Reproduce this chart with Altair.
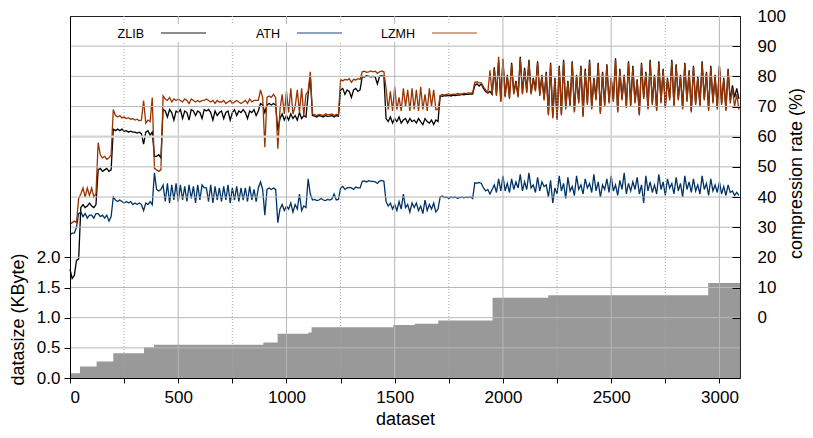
import altair as alt
import pandas as pd

FONT = "Liberation Sans"

# ---------------- data ----------------
# compression rate (%) sampled every 10 datasets (0, 10, ..., 3090)
dataset = list(range(0, 3100, 10))

zlib = [
    16, 13, 14, 19, 19.5, 36.5, 37.5, 36.5, 37, 38,
    37, 36.5, 37.5, 49, 49.5, 48.5, 49, 49.5, 48.5, 49,
    62.5, 62, 62.5, 62, 62.5, 61.8, 62, 61.5, 61.8, 61.5,
    61.5, 61.2, 61.5, 61, 57.5, 61.5, 62, 60.5, 61.5, 53.5,
    53.5, 54, 53, 69, 68.5, 66.5, 69, 68, 65.5, 68.5,
    68, 69, 66, 68.5, 68, 65.5, 69, 68.5, 67, 68.5,
    68, 66, 69, 68.5, 69, 68, 65.5, 68.5, 67, 68,
    68.5, 66, 68, 68.5, 65.5, 68, 69, 67, 68.5, 68,
    69, 68, 66, 68.5, 68, 69, 67, 68.5, 71, 70.5,
    68, 70.5, 71, 70.5, 71, 70.5, 62, 66, 67.5, 65.5,
    67, 65.5, 67.5, 66, 67, 65.5, 68, 66, 67, 66.5,
    74, 80, 67, 66.8, 66.5, 67, 66.8, 66.5, 67, 66.7,
    66.8, 67, 66.5, 67, 66.8, 75.5, 76, 74, 75.5, 75,
    73, 75.5, 76, 75, 75.5, 80, 79.8, 80.2, 80, 79.8,
    80, 79.8, 77.5, 80, 80.2, 80, 66, 65, 66.5, 64.5,
    66, 65, 66.5, 64.5, 65.5, 66, 64.5, 66, 65, 65.5,
    64.5, 66, 65, 64, 66, 65, 64.5, 65.5, 64, 65.5,
    65, 73.5, 73.4, 73.6, 73.5, 73.7, 73.5, 73.8, 73.6, 73.8,
    73.8, 74, 73.9, 74.1, 74, 74.2, 74.1, 77, 77.5, 76.8,
    77.5, 76, 75, 74.5, 75, 74, 83, 74, 85, 72,
    85.8, 73.5, 80.5, 73, 84.5, 74.5, 78.5, 73.5, 86.5, 74.5,
    82.8, 75, 85.5, 74.5, 79.5, 75.5, 85, 74, 80.5, 72.5,
    81.5, 67.5, 84.5, 66.5, 79.5, 66, 83.5, 67.5, 85.5, 69.5,
    78.5, 70.5, 85, 68.5, 80.5, 71.5, 83.5, 67, 82.5, 71,
    85.5, 69.5, 79.5, 72.5, 84.5, 68, 81.5, 70.5, 84, 71.5,
    79.5, 72, 86, 68.5, 82.5, 72.5, 80.5, 70, 85, 70.5,
    83.5, 71.5, 79, 67.5, 84.5, 73, 81.5, 69.5, 85.5, 71,
    80.5, 69, 85, 71.5, 82.5, 70, 79.5, 72.5, 85.5, 70.5,
    84, 72.5, 80.5, 69.5, 84.5, 72, 82, 68.5, 83.5, 71,
    80, 70.5, 85, 72.5, 81.5, 69, 83.5, 71.5, 80.5, 69.5,
    83.5, 71, 79.5, 69, 82.5, 72, 77, 73, 76, 72.5,
]

ath = [
    27.5, 28, 28, 30, 34.5, 35, 33.5, 34.5, 33, 34,
    34, 33, 34.5, 34.5, 33.5, 34, 33, 34, 32, 33.5,
    40, 39, 38.5, 39, 38.5, 38, 38.5, 38, 38.5, 37.5,
    38, 37.5, 38, 37.5, 35.5, 38, 37.5, 38.5, 37.5, 48,
    42.5, 42, 42.5, 44, 38.5, 44.5, 38, 44, 39, 44.5,
    38.5, 44, 39, 43.5, 38.5, 44, 39.5, 43.5, 38, 44,
    39, 44, 43, 43, 38.5, 44, 38, 43.5, 39, 43,
    38.5, 43.5, 39, 44, 38, 43, 39, 43.5, 38.5, 43,
    39, 43, 38.5, 43.5, 39, 42.5, 38.5, 43, 45, 42.5,
    34, 42.5, 43, 42.5, 43, 42.5, 31.5, 36, 37.5, 35.5,
    37, 36, 38, 35, 37.5, 36, 41, 35.5, 37, 36.5,
    46, 41, 39, 39.2, 38.8, 39, 39.5, 39, 38.8, 39.2,
    39, 39.3, 41, 39, 39.2, 43, 43.5, 42.5, 43, 43.2,
    43, 42.5, 43.3, 43, 43, 45.2, 45.3, 45, 45.4, 45.2,
    45.2, 45, 44.5, 45.3, 45.5, 45.2, 38.5, 37, 38, 36,
    37.5, 35.5, 38.5, 36, 41, 36.5, 37.5, 35, 38, 36.5,
    38, 35.5, 37, 34.5, 39, 35.5, 37.5, 36, 38, 35,
    36, 40, 40.3, 39.8, 40, 39.5, 40.1, 39.8, 40, 39.6,
    39.8, 40, 39.7, 40, 39.8, 40.1, 39.5, 44.7, 44.6, 44.8,
    44.5, 43, 42, 42.5, 41, 42.5, 44, 41.5, 46, 42,
    47, 42, 44.5, 41.5, 46, 42.5, 45, 43, 47.5, 42,
    45, 42.5, 48, 43, 44, 41.5, 46.5, 42, 45, 43.5,
    44, 40, 45.5, 38, 43, 41, 47, 42, 44.5, 39.5,
    46.5, 42, 43.5, 40.5, 47, 42.5, 44, 41, 46, 43,
    44.5, 41.5, 47.5, 42, 45, 40, 44, 42.5, 46, 41.5,
    47, 42, 44, 40.5, 45.5, 42.5, 48, 41, 44.5, 42,
    45, 42.5, 46.5, 41, 44, 38, 47, 42, 45, 41.5,
    44, 41, 47.5, 42.5, 45, 40.5, 46, 43, 44.5, 41,
    46.5, 42, 44.5, 40, 47, 42.5, 45, 41.5, 46, 42,
    44, 41, 47, 42.5, 44.5, 40.5, 46, 42, 44, 41.5,
    45, 41, 43.5, 40.5, 44, 41.5, 42, 40.5, 41.5, 40.5,
]

lzmh = [
    31, 31.5, 32, 31.5, 39.5, 41, 43, 40, 43, 40.5,
    43, 40, 41, 58, 54, 53, 53.5, 52.5, 53, 54,
    69, 67, 66.5, 67, 66.2, 66.5, 66, 66.3, 65.8, 66,
    65.5, 65.8, 65.3, 65.5, 72, 64.5, 65.5, 65, 73, 49.5,
    49, 48.5, 49, 73.5, 72.5, 72, 73, 71.5, 72.5, 72,
    72.5, 72, 71.5, 72.5, 72, 71, 72.5, 72, 71.5, 72,
    71.5, 72, 72, 72.5, 72, 71.5, 72, 71, 72, 71.5,
    71.5, 72, 71, 71.5, 72, 71, 71.5, 72, 71.5, 71,
    71.5, 72, 71, 72.5, 71.5, 72, 72, 72, 75.5, 73,
    56.5, 73, 73.5, 73, 74, 73, 56, 69, 74, 67.5,
    75, 68, 76, 67.5, 70, 75.5, 68, 76, 67, 74,
    75, 81.5, 67.5, 67.3, 67, 67.4, 67.2, 67, 67.5, 67.3,
    67.3, 67.5, 67, 67.4, 67.2, 79, 78.5, 79, 78.8, 79.2,
    78, 79, 78.8, 79.2, 79, 81.5, 81.7, 81.3, 81.5, 81.8,
    81.5, 81.7, 81, 81.5, 81.8, 81.5, 76, 69, 75, 68.5,
    76.5, 69, 73, 68.5, 76, 70, 75.5, 68.5, 76, 69,
    75.5, 68.5, 76.5, 69, 74, 68.5, 76, 70, 75.5, 69,
    69, 73.7, 74, 73.8, 74, 74.2, 73.9, 74.1, 74, 74.3,
    74.2, 74.1, 74.4, 74.3, 74.5, 74.4, 74.6, 78, 78.2, 77.8,
    77.8, 76.5, 75.5, 74.5, 82, 74, 82.5, 73.5, 86.5, 71.5,
    85, 73, 80, 72.5, 84, 74, 78, 73, 86, 74,
    82, 74.5, 85, 74, 79, 75, 84.5, 73.5, 80, 72,
    81, 67, 84, 66, 79, 65.5, 83, 67, 85, 69,
    78, 70, 84.5, 68, 80, 71, 83, 66.5, 82, 70.5,
    85, 69, 79, 72, 84, 67.5, 81, 70, 83.5, 71,
    79, 71.5, 85.5, 68, 82, 72, 80, 69.5, 84.5, 70,
    83, 71, 78.5, 67, 84, 72.5, 81, 69, 85, 70.5,
    80, 68.5, 84.5, 71, 82, 69.5, 79, 72, 85, 70,
    83.5, 72, 80, 69, 84, 71.5, 81.5, 68, 83, 70.5,
    79.5, 70, 84.5, 72, 81, 68.5, 83, 71, 80, 69,
    83, 70.5, 79, 68.5, 82, 71, 76, 70, 74, 69,
]

# datasize (KByte), step changes
size_x = [0, 46, 123, 200, 342, 388, 893, 959, 1101, 1116, 1493, 1593, 1701, 1952, 2209, 2948, 3095]
size_kb = [0.08, 0.19, 0.275, 0.41, 0.51, 0.55, 0.59, 0.735, 0.755, 0.84, 0.88, 0.90, 0.955, 1.33, 1.37, 1.575, 1.575]

series_names = ["ZLIB", "ATH", "LZMH"]
series_colors = ["#000000", "#003366", "#993300"]

x_ticks = [0, 250, 500, 750, 1000, 1250, 1500, 1750, 2000, 2250, 2500, 2750, 3000]
kb_ticks = [0.0, 0.5, 1.0, 1.5, 2.0]
pct_ticks = [0, 10, 20, 30, 40, 50, 60, 70, 80, 90, 100]
pct_grid = [-10, 0, 10, 20, 30, 40, 50, 60, 70, 80, 90]

# ---------------- scales & axes ----------------
x_scale = alt.Scale(domain=[0, 3095], nice=False, zero=False)
kb_scale = alt.Scale(domain=[0, 6], nice=False)
pct_scale = alt.Scale(domain=[-20, 100], nice=False)

x_axis = alt.Axis(
    title="dataset", values=x_ticks, format="d",
    labelExpr="datum.value % 500 == 0 ? datum.label : ''",
    grid=False, tickSize=5, labelPadding=6, titlePadding=5, zindex=1,
)
left_axis = alt.Axis(
    title="datasize (KByte)", values=kb_ticks, format=".1f",
    grid=False, tickSize=6, labelPadding=4, zindex=1,
    titleAngle=270, titleX=-52, titleY=303,
    titleAlign="center", titleBaseline="middle",
)
right_axis = alt.Axis(
    orient="right", title="compression rate (%)", values=pct_ticks,
    grid=False, domain=False, offset=-8, tickSize=8, labelPadding=17,
    labelAlign="left", zindex=1,
    titleAngle=270, titleX=64, titleY=157,
    titleAlign="center", titleBaseline="middle",
)

# ---------------- layers ----------------
size_df = pd.DataFrame({"d": size_x, "kb": size_kb})
area = alt.Chart(size_df).mark_area(interpolate="step-after", color="#999999").encode(
    x=alt.X("d:Q", scale=x_scale, axis=x_axis),
    y=alt.Y("kb:Q", scale=kb_scale, axis=left_axis),
)

df = pd.DataFrame({"d": dataset, "ZLIB": zlib, "ATH": ath, "LZMH": lzmh})
lines = []
for name, col in zip(series_names, series_colors):
    lines.append(
        alt.Chart(df).mark_line(color=col, strokeWidth=1.3).encode(
            x=alt.X("d:Q", scale=x_scale, axis=x_axis),
            y=alt.Y(f"{name}:Q", scale=pct_scale, axis=right_axis),
        )
    )

xgrid_df = pd.DataFrame({"d": x_ticks})
vgrid_solid = alt.Chart(xgrid_df).transform_filter(
    "datum.d > 0 && datum.d % 500 == 0"
).mark_rule(color="#b8b8b8", strokeWidth=1).encode(
    x=alt.X("d:Q", scale=x_scale, axis=x_axis)
)
vgrid_dot = alt.Chart(xgrid_df).transform_filter(
    "datum.d % 500 != 0"
).mark_rule(color="#a8a8a8", strokeWidth=1, strokeDash=[1, 2]).encode(
    x=alt.X("d:Q", scale=x_scale, axis=x_axis)
)
hgrid = alt.Chart(pd.DataFrame({"p": pct_grid})).mark_rule().encode(
    y=alt.Y("p:Q", scale=pct_scale, axis=right_axis),
    color=alt.condition("datum.p == 60", alt.value("#d4d4d4"), alt.value("#b8b8b8")),
    strokeWidth=alt.condition("datum.p == 60", alt.value(2.2), alt.value(1)),
)

one = pd.DataFrame({"k": [0]})
legend_box = alt.Chart(one).mark_rect(color="white").encode(
    x=alt.value(30), x2=alt.value(420), y=alt.value(8), y2=alt.value(26)
)
legend_layers = [legend_box]
text_right = [74, 210, 345]
line_start = [91, 227, 362]
for name, col, tx, lx in zip(series_names, series_colors, text_right, line_start):
    legend_layers.append(
        alt.Chart(one).mark_text(align="right", baseline="middle", font=FONT,
                                 fontSize=12.5, color="black").encode(
            x=alt.value(tx), y=alt.value(17.5), text=alt.value(name)
        )
    )
    legend_layers.append(
        alt.Chart(one).mark_rule(color=col, strokeWidth=1.5, opacity=0.6).encode(
            x=alt.value(lx), x2=alt.value(lx + 45), y=alt.value(17)
        )
    )

right_group = alt.layer(*lines, vgrid_solid, vgrid_dot, hgrid, *legend_layers)

chart = alt.layer(area, right_group).resolve_scale(y="independent").properties(
    width=670, height=362,
    padding={"left": 62, "top": 8, "right": 65, "bottom": 52},
    autosize=alt.AutoSizeParams(type="none"),
).configure_view(
    stroke="#222222", strokeWidth=1
).configure_axis(
    labelFont=FONT, titleFont=FONT, labelFontSize=17, titleFontSize=18,
    titleFontWeight="normal", labelColor="black", titleColor="black",
    domainColor="black", tickColor="black", domainWidth=1, tickWidth=1,
)

chart.save("out.html", embed_options={"renderer": "svg", "actions": False})
